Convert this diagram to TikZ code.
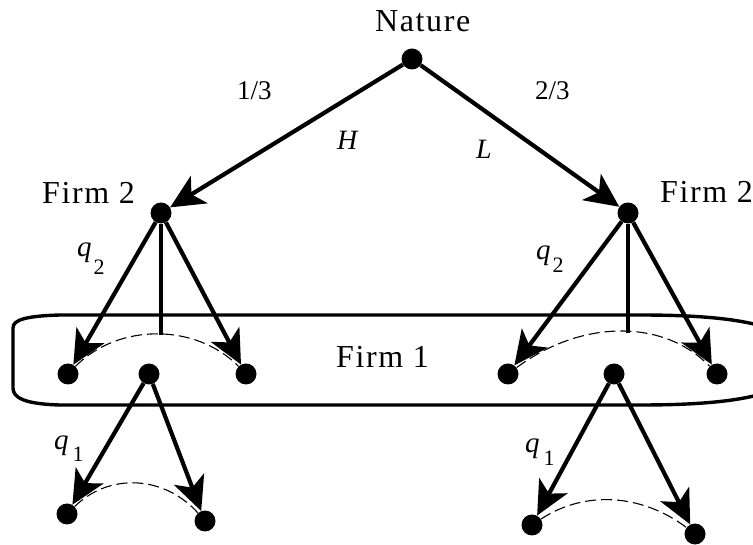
\documentclass[tikz,border=0pt]{standalone}
\usepackage{fontspec}
\setmainfont{Liberation Serif}
\newfontfamily\lblfont{Liberation Serif}[LetterSpace=5]
\usetikzlibrary{arrows.meta}
\begin{document}
\begin{tikzpicture}[x=1pt,y=1pt,
  dot/.style={circle,fill=black,inner sep=0pt,minimum size=21pt},
  arr/.style={line width=4.2pt,-{Stealth[length=34pt,width=32pt,inset=9pt]}},
  stem/.style={line width=4.2pt},
  info/.style={line width=1.1pt,dash pattern=on 11pt off 5pt},
  setbox/.style={line width=3.4pt},
  big/.style={anchor=base west,inner sep=0pt,font=\lblfont\fontsize{32}{36}\selectfont},
  prob/.style={anchor=base west,inner sep=0pt,font=\fontsize{27}{32}\selectfont},
  act/.style={anchor=base west,inner sep=0pt,font=\itshape\fontsize{28}{32}\selectfont},
  qlbl/.style={anchor=base west,inner sep=0pt,font=\fontsize{29}{30}\selectfont}
]
\useasboundingbox (0,0) rectangle (753,544);

% information set box for Firm 1
\draw[setbox] (60,229) .. controls (25,228) and (13,224) .. (13,216) -- (13,156)
  .. controls (13,146) and (25,140) .. (60,139) -- (640,139)
  .. controls (730,139) and (800,148) .. (800,184)
  .. controls (800,220) and (730,229) .. (640,229) -- cycle;

% nodes
\node[dot] (N) at (412,485) {};
\node[dot] (A) at (161,331) {};
\node[dot] (B) at (628,331) {};
\node[dot] (a1) at (68,170) {};
\node[dot] (am) at (149,170) {};
\node[dot] (a3) at (246,170) {};
\node[dot] (b1) at (508,170) {};
\node[dot] (bm) at (614,170) {};
\node[dot] (b3) at (717,170) {};
\node[dot] (c1) at (67,30) {};
\node[dot] (c2) at (205,23) {};
\node[dot] (d1) at (532,19) {};
\node[dot] (d2) at (695,10) {};
\coordinate (ta) at (161,209);
\coordinate (tb) at (628,211);

% dashed information arcs
\draw[info] (a1) .. controls (118,221) and (196,221) .. (a3);
\draw[info] (b1) .. controls (582,225) and (664,225) .. (b3);
\draw[info] (c1) .. controls (110,72) and (165,68) .. (c2);
\draw[info] (d1) .. controls (585,54) and (642,50) .. (d2);

% stems
\draw[stem] (A) -- (ta);
\draw[stem] (B) -- (tb);

% arrows
\draw[arr] (N) -- (A);
\draw[arr] (N) -- (B);
\draw[arr] (A) -- (a1);
\draw[arr] (A) -- (a3);
\draw[arr] (B) -- (b1);
\draw[arr] (B) -- (b3);
\draw[arr] (am) -- (c1);
\draw[arr] (am) -- (c2);
\draw[arr] (bm) -- (d1);
\draw[arr] (bm) -- (d2);

% labels
\node[big] (tN) at (375,512) {Nature};
\node[big] (tA) at (42,340) {Firm 2};
\node[big] (tB) at (660,341) {Firm 2};
\node[big] (tF) at (336,176) {Firm 1};
\node[prob] (p1) at (237,444) {1/3};
\node[prob] (p2) at (535,444) {2/3};
\node[act] (h) at (337,394) {H};
\node[act] (l) at (476,385) {L};
\node[qlbl] (q2a) at (77,287) {\textit{q}\hspace{2pt}\raisebox{-18pt}{\fontsize{22}{26}\selectfont 2}};
\node[qlbl] (q2b) at (536,284) {\textit{q}\hspace{2pt}\raisebox{-13pt}{\fontsize{22}{26}\selectfont 2}};
\node[qlbl] (q1a) at (54,94) {\textit{q}\hspace{4pt}\raisebox{-12pt}{\fontsize{22}{26}\selectfont 1}};
\node[qlbl] (q1b) at (525,91) {\textit{q}\hspace{4pt}\raisebox{-13pt}{\fontsize{22}{26}\selectfont 1}};
\end{tikzpicture}
\end{document}
